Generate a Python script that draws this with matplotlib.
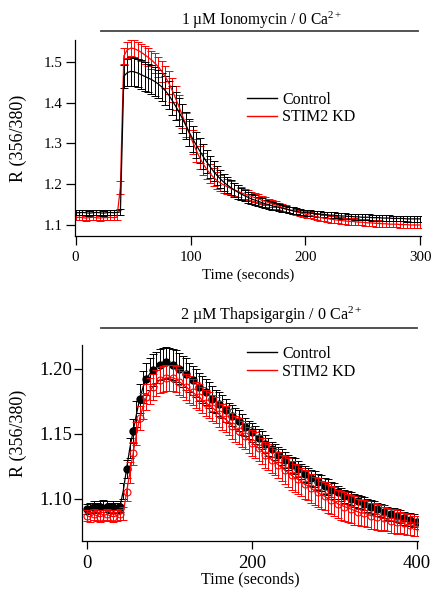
import numpy as np
import matplotlib
matplotlib.use("Agg")
import matplotlib.pyplot as plt
from matplotlib.lines import Line2D
import matplotlib.transforms as mtransforms

plt.rcParams['font.family'] = ['Liberation Serif', 'DejaVu Serif']
plt.rcParams['mathtext.fontset'] = 'custom'
plt.rcParams['mathtext.rm'] = 'Liberation Serif'
plt.rcParams['mathtext.it'] = 'Liberation Serif:italic'

# ---- ionomycin (top), sampled every 3 s ----
t_top = np.arange(0, 301, 3)
ctl_top = [1.131, 1.130, 1.131, 1.130, 1.129, 1.130, 1.131, 1.130, 1.129, 1.130,
           1.131, 1.130, 1.131, 1.132, 1.465, 1.474, 1.477, 1.476, 1.473, 1.469,
           1.465, 1.461, 1.457, 1.452, 1.446, 1.439, 1.430, 1.419, 1.406, 1.392,
           1.377, 1.361, 1.344, 1.327, 1.311, 1.296, 1.282, 1.268, 1.255, 1.243,
           1.232, 1.222, 1.213, 1.205, 1.198, 1.192, 1.186, 1.181, 1.176, 1.172,
           1.168, 1.164, 1.161, 1.158, 1.155, 1.152, 1.150, 1.147, 1.145, 1.143,
           1.141, 1.139, 1.137, 1.135, 1.134, 1.132, 1.131, 1.130, 1.129, 1.128,
           1.127, 1.127, 1.126, 1.125, 1.124, 1.124, 1.123, 1.122, 1.122, 1.121,
           1.121, 1.120, 1.120, 1.119, 1.119, 1.119, 1.118, 1.118, 1.118, 1.117,
           1.117, 1.117, 1.116, 1.116, 1.116, 1.116, 1.115, 1.115, 1.115, 1.115,
           1.115]
ctl_top_err = [0.006, 0.006, 0.006, 0.006, 0.006, 0.006, 0.006, 0.006, 0.006, 0.006,
               0.006, 0.006, 0.006, 0.007, 0.028, 0.034, 0.035, 0.035, 0.035, 0.035,
               0.035, 0.035, 0.035, 0.035, 0.035, 0.035, 0.035, 0.035, 0.035, 0.035,
               0.035, 0.035, 0.034, 0.034, 0.033, 0.032, 0.031, 0.030, 0.028, 0.027,
               0.025, 0.024, 0.022, 0.021, 0.019, 0.018, 0.017, 0.016, 0.015, 0.014,
               0.013, 0.012, 0.012, 0.011, 0.011, 0.010, 0.010, 0.009, 0.009, 0.009,
               0.008, 0.008, 0.008, 0.008, 0.008, 0.007, 0.007, 0.007, 0.007, 0.007,
               0.007, 0.007, 0.007, 0.007, 0.007, 0.007, 0.007, 0.007, 0.007, 0.007,
               0.007, 0.007, 0.007, 0.007, 0.007, 0.007, 0.007, 0.007, 0.007, 0.007,
               0.007, 0.007, 0.007, 0.007, 0.007, 0.007, 0.007, 0.007, 0.007, 0.007,
               0.007]
kd_top = [1.118, 1.119, 1.118, 1.117, 1.118, 1.119, 1.118, 1.117, 1.118, 1.118,
          1.119, 1.118, 1.119, 1.192, 1.515, 1.530, 1.534, 1.533, 1.529, 1.524,
          1.518, 1.512, 1.505, 1.497, 1.488, 1.477, 1.464, 1.449, 1.431, 1.411,
          1.390, 1.368, 1.346, 1.324, 1.303, 1.283, 1.265, 1.250, 1.237, 1.226,
          1.217, 1.209, 1.203, 1.198, 1.194, 1.190, 1.186, 1.183, 1.179, 1.176,
          1.173, 1.170, 1.167, 1.164, 1.161, 1.158, 1.155, 1.152, 1.149, 1.146,
          1.143, 1.140, 1.137, 1.135, 1.132, 1.130, 1.128, 1.126, 1.124, 1.122,
          1.120, 1.118, 1.117, 1.116, 1.114, 1.113, 1.112, 1.111, 1.110, 1.109,
          1.109, 1.108, 1.107, 1.107, 1.106, 1.105, 1.105, 1.104, 1.104, 1.103,
          1.103, 1.102, 1.102, 1.102, 1.101, 1.101, 1.101, 1.100, 1.100, 1.100,
          1.100]
kd_top_err = [0.006, 0.006, 0.006, 0.006, 0.006, 0.006, 0.006, 0.006, 0.006, 0.006,
              0.006, 0.006, 0.006, 0.017, 0.020, 0.020, 0.020, 0.020, 0.021, 0.021,
              0.022, 0.022, 0.023, 0.024, 0.025, 0.026, 0.027, 0.028, 0.029, 0.030,
              0.030, 0.030, 0.030, 0.030, 0.030, 0.029, 0.028, 0.027, 0.025, 0.024,
              0.022, 0.021, 0.020, 0.019, 0.018, 0.017, 0.016, 0.015, 0.014, 0.013,
              0.012, 0.012, 0.011, 0.011, 0.010, 0.010, 0.010, 0.009, 0.009, 0.009,
              0.009, 0.008, 0.008, 0.008, 0.008, 0.008, 0.008, 0.008, 0.008, 0.008,
              0.008, 0.008, 0.008, 0.008, 0.008, 0.008, 0.008, 0.008, 0.008, 0.008,
              0.008, 0.008, 0.008, 0.008, 0.008, 0.008, 0.008, 0.008, 0.008, 0.008,
              0.008, 0.008, 0.008, 0.008, 0.008, 0.008, 0.008, 0.008, 0.008, 0.008,
              0.008]

# ---- thapsigargin (bottom), sampled every 4 s ----
t_bot = np.arange(0, 401, 4)
ctl_bot = [1.092, 1.093, 1.094, 1.093, 1.094, 1.095, 1.094, 1.093, 1.094, 1.093,
           1.094, 1.106, 1.123, 1.139, 1.152, 1.165, 1.177, 1.186, 1.192, 1.196,
           1.199, 1.201, 1.203, 1.204, 1.205, 1.204, 1.203, 1.202, 1.200, 1.198,
           1.196, 1.193, 1.191, 1.189, 1.186, 1.184, 1.182, 1.180, 1.177, 1.175,
           1.173, 1.171, 1.168, 1.166, 1.164, 1.162, 1.160, 1.157, 1.155, 1.153,
           1.151, 1.149, 1.147, 1.145, 1.142, 1.140, 1.138, 1.136, 1.134, 1.132,
           1.130, 1.128, 1.126, 1.125, 1.123, 1.121, 1.119, 1.118, 1.116, 1.115,
           1.113, 1.112, 1.110, 1.109, 1.107, 1.106, 1.105, 1.103, 1.102, 1.101,
           1.100, 1.099, 1.098, 1.097, 1.096, 1.095, 1.094, 1.093, 1.092, 1.091,
           1.090, 1.089, 1.088, 1.088, 1.087, 1.086, 1.085, 1.084, 1.084, 1.083,
           1.082]
ctl_bot_err = [0.004, 0.004, 0.004, 0.004, 0.004, 0.004, 0.004, 0.004, 0.004, 0.004,
               0.004, 0.006, 0.007, 0.008, 0.009, 0.010, 0.011, 0.012, 0.012, 0.012,
               0.012, 0.012, 0.012, 0.012, 0.012, 0.012, 0.012, 0.012, 0.012, 0.012,
               0.012, 0.011, 0.011, 0.011, 0.011, 0.010, 0.010, 0.010, 0.010, 0.009,
               0.009, 0.009, 0.009, 0.008, 0.008, 0.008, 0.008, 0.008, 0.007, 0.007,
               0.007, 0.007, 0.007, 0.007, 0.007, 0.007, 0.006, 0.006, 0.006, 0.006,
               0.006, 0.006, 0.006, 0.006, 0.006, 0.006, 0.006, 0.006, 0.006, 0.006,
               0.006, 0.006, 0.006, 0.006, 0.006, 0.006, 0.005, 0.005, 0.005, 0.005,
               0.005, 0.005, 0.005, 0.005, 0.005, 0.005, 0.005, 0.005, 0.005, 0.005,
               0.005, 0.005, 0.005, 0.005, 0.005, 0.005, 0.005, 0.005, 0.005, 0.005,
               0.005]
kd_bot = [1.087, 1.086, 1.088, 1.087, 1.086, 1.087, 1.088, 1.087, 1.086, 1.087,
          1.088, 1.089, 1.105, 1.120, 1.135, 1.150, 1.162, 1.171, 1.178, 1.183,
          1.186, 1.189, 1.191, 1.192, 1.193, 1.193, 1.193, 1.192, 1.190, 1.188,
          1.186, 1.184, 1.182, 1.180, 1.178, 1.176, 1.174, 1.172, 1.170, 1.168,
          1.165, 1.163, 1.161, 1.159, 1.156, 1.154, 1.152, 1.150, 1.148, 1.145,
          1.143, 1.141, 1.139, 1.137, 1.134, 1.132, 1.130, 1.128, 1.126, 1.124,
          1.122, 1.120, 1.118, 1.116, 1.115, 1.113, 1.111, 1.110, 1.108, 1.106,
          1.105, 1.103, 1.102, 1.100, 1.099, 1.098, 1.096, 1.095, 1.094, 1.093,
          1.092, 1.091, 1.090, 1.089, 1.089, 1.088, 1.087, 1.087, 1.086, 1.085,
          1.085, 1.084, 1.083, 1.083, 1.082, 1.082, 1.081, 1.080, 1.080, 1.079,
          1.079]
kd_bot_err = [0.004, 0.004, 0.004, 0.004, 0.004, 0.004, 0.004, 0.004, 0.004, 0.004,
              0.004, 0.005, 0.007, 0.008, 0.009, 0.009, 0.009, 0.010, 0.010, 0.010,
              0.010, 0.010, 0.010, 0.010, 0.010, 0.010, 0.010, 0.010, 0.010, 0.010,
              0.010, 0.010, 0.010, 0.010, 0.010, 0.010, 0.010, 0.010, 0.010, 0.010,
              0.010, 0.010, 0.010, 0.010, 0.010, 0.010, 0.010, 0.010, 0.010, 0.010,
              0.010, 0.010, 0.010, 0.010, 0.010, 0.010, 0.010, 0.010, 0.010, 0.010,
              0.011, 0.011, 0.011, 0.011, 0.011, 0.011, 0.011, 0.011, 0.011, 0.011,
              0.011, 0.011, 0.011, 0.011, 0.011, 0.011, 0.011, 0.011, 0.011, 0.011,
              0.011, 0.011, 0.010, 0.010, 0.010, 0.010, 0.010, 0.010, 0.010, 0.010,
              0.009, 0.009, 0.009, 0.009, 0.009, 0.008, 0.008, 0.008, 0.008, 0.008,
              0.008]

labels = ["Control", "STIM2 KD"]
title_top = "1 \u00b5M Ionomycin / 0 Ca$^{\\mathrm{2+}}$"
title_bot = "2 \u00b5M Thapsigargin / 0 Ca$^{\\mathrm{2+}}$"


def style(ax, tick_fs, tick_len, ypad, xpad, xlab_fs, xlabpad):
    for s in ("top", "right"):
        ax.spines[s].set_visible(False)
    for s in ("left", "bottom"):
        ax.spines[s].set_linewidth(0.9)
    ax.tick_params(direction="out", length=tick_len, width=0.9, labelsize=tick_fs)
    ax.tick_params(axis="y", pad=ypad)
    ax.tick_params(axis="x", pad=xpad)
    ax.set_xlabel("Time (seconds)", fontsize=xlab_fs, labelpad=xlabpad)
    ax.set_ylabel("R (356/380)", fontsize=13)


fig = plt.figure(figsize=(4.35, 5.91), dpi=100)
ax1 = fig.add_axes([0.1724, 0.6007, 0.7954, 0.3316])
ax2 = fig.add_axes([0.1885, 0.0846, 0.7724, 0.3316])

# top panel: red underneath, black on top
ax1.errorbar(t_top, kd_top, yerr=kd_top_err, color="red", lw=0.9,
             elinewidth=0.7, capsize=3, capthick=0.7)
ax1.errorbar(t_top, ctl_top, yerr=ctl_top_err, color="black", lw=0.9,
             elinewidth=0.7, capsize=3, capthick=0.7)
ax1.set_xlim(-0.5, 300.5)
ax1.set_ylim(1.073, 1.554)
ax1.set_xticks([0, 100, 200, 300])
ax1.set_yticks([1.1, 1.2, 1.3, 1.4, 1.5])
style(ax1, 10.8, 6.5, 2.5, 4.5, 10.8, 3)
ax1.yaxis.set_label_coords(-0.139, 0.5)

# bottom panel: black underneath, red on top
ax2.errorbar(t_bot, ctl_bot, yerr=ctl_bot_err, fmt="none", ecolor="black",
             elinewidth=0.7, capsize=3, capthick=0.7)
ax2.plot(t_bot, ctl_bot, color="black", lw=0.9, marker="o", ms=5,
         markevery=2, mfc="black", mec="black")
ax2.errorbar(t_bot, kd_bot, yerr=kd_bot_err, fmt="none", ecolor="red",
             elinewidth=0.7, capsize=3, capthick=0.7)
ax2.plot(t_bot, kd_bot, color="red", lw=0.9, marker="o", ms=5,
         markevery=2, mfc="none", mec="red", mew=0.8)
ax2.set_xlim(-6, 401.2)
ax2.set_ylim(1.0675, 1.2182)
ax2.set_xticks([0, 200, 400])
ax2.set_yticks([1.10, 1.15, 1.20])
ax2.set_yticklabels(["1.10", "1.15", "1.20"])
style(ax2, 13.5, 5.5, 1.5, 4.5, 11.5, 0)
ax2.yaxis.set_label_coords(-0.164, 0.55)

# treatment bars above each panel
for ax, x0, x1, ybar, xt, yt, txt, fs in (
        (ax1, 22, 298, 1.046, 162, 1.102, title_top, 11.2),
        (ax2, 17, 400, 1.087, 224, 1.153, title_bot, 11.6)):
    tr = mtransforms.blended_transform_factory(ax.transData, ax.transAxes)
    ax.plot([x0, x1], [ybar, ybar], transform=tr, clip_on=False,
            color="#444444", lw=1.3)
    ax.text(xt, yt, txt, transform=tr, ha="center", va="center", fontsize=fs)

handles = [Line2D([], [], color="black", lw=1.0), Line2D([], [], color="red", lw=1.0)]
ax1.legend(handles, labels, loc="upper left", bbox_to_anchor=(0.497, 0.735),
           frameon=False, handlelength=1.9, handletextpad=0.3, labelspacing=0.08,
           borderpad=0, borderaxespad=0, fontsize=11.5)
ax2.legend(handles, labels, loc="upper left", bbox_to_anchor=(0.491, 0.995),
           frameon=False, handlelength=1.9, handletextpad=0.3, labelspacing=0.12,
           borderpad=0, borderaxespad=0, fontsize=11.5)

fig.savefig("out.png", dpi=100)
